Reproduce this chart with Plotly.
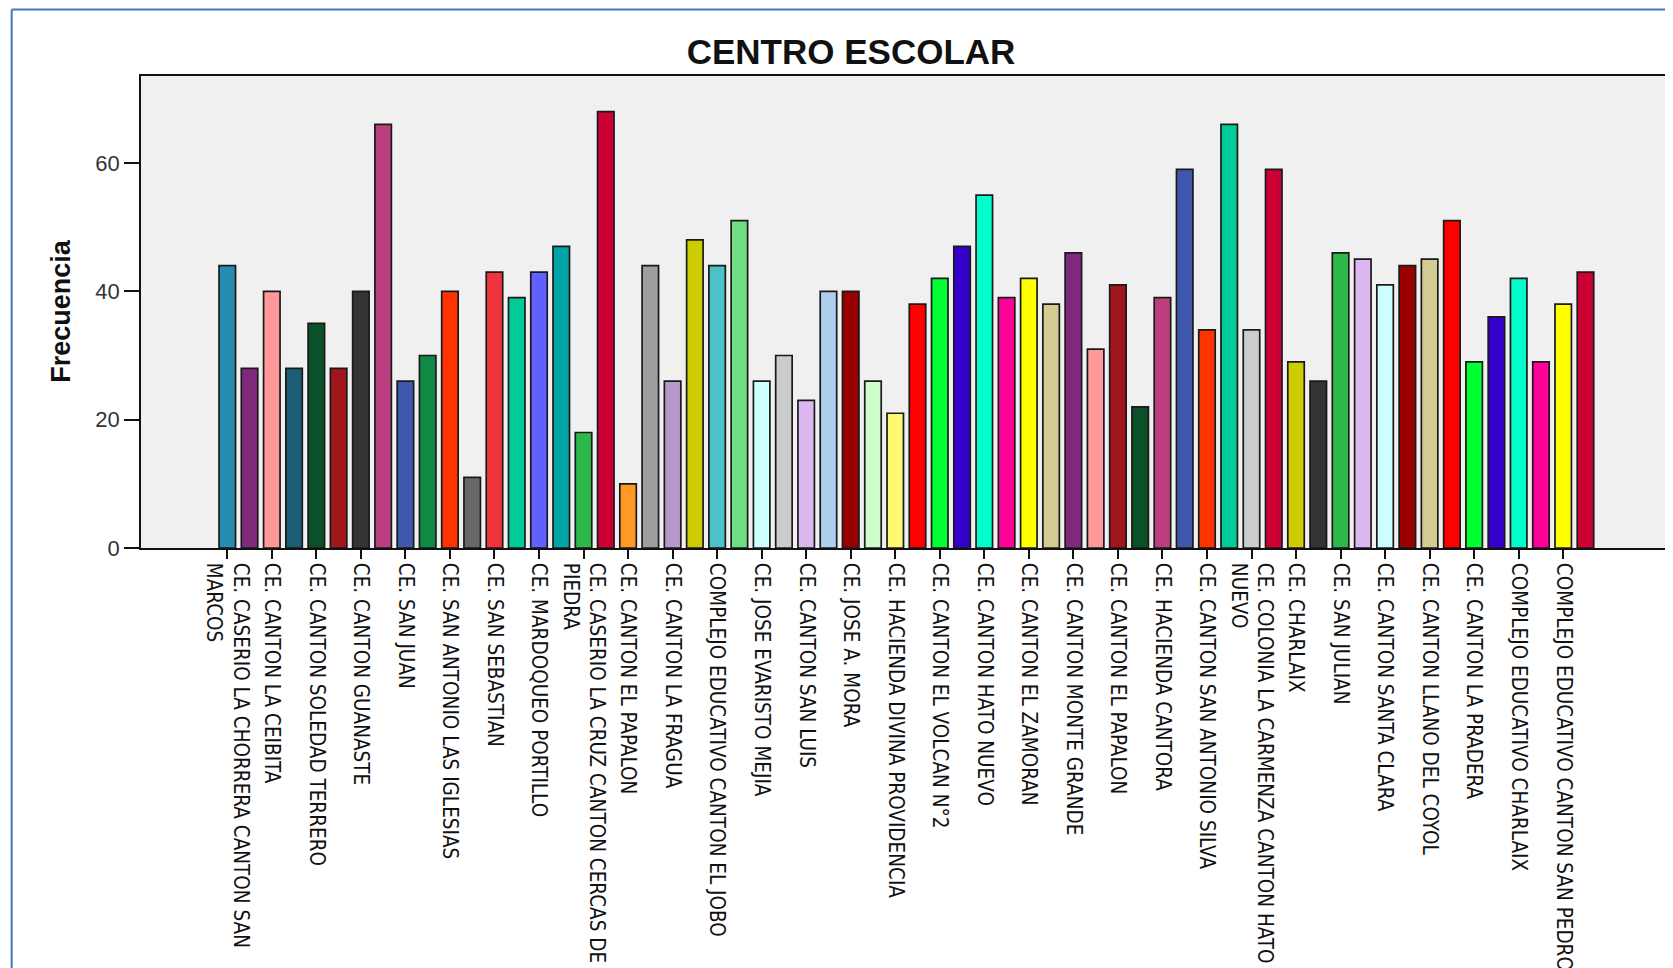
import plotly.graph_objects as go

# ---------------- data ----------------
tick_labels = [
    "CE. CASERIO LA CHORRERA CANTON SAN<br>MARCOS",
    "CE. CANTON LA CEIBITA",
    "CE. CANTON SOLEDAD TERRERO",
    "CE. CANTON GUANASTE",
    "CE. SAN JUAN",
    "CE. SAN ANTONIO LAS IGLESIAS",
    "CE. SAN SEBASTIAN",
    "CE. MARDOQUEO PORTILLO",
    "CE. CASERIO LA CRUZ CANTON CERCAS DE<br>PIEDRA",
    "CE. CANTON EL PAPALON",
    "CE. CANTON LA FRAGUA",
    "COMPLEJO EDUCATIVO CANTON EL JOBO",
    "CE. JOSE EVARISTO MEJIA",
    "CE. CANTON SAN LUIS",
    "CE. JOSE A. MORA",
    "CE. HACIENDA DIVINA PROVIDENCIA",
    "CE. CANTON EL VOLCAN N°2",
    "CE. CANTON HATO NUEVO",
    "CE. CANTON EL ZAMORAN",
    "CE. CANTON MONTE GRANDE",
    "CE. CANTON EL PAPALON",
    "CE. HACIENDA CANTORA",
    "CE. CANTON SAN ANTONIO SILVA",
    "CE. COLONIA LA CARMENZA CANTON HATO<br>NUEVO",
    "CE. CHARLAIX",
    "CE. SAN JULIAN",
    "CE. CANTON SANTA CLARA",
    "CE. CANTON LLANO DEL COYOL",
    "CE. CANTON LA PRADERA",
    "COMPLEJO EDUCATIVO CHARLAIX",
    "COMPLEJO EDUCATIVO CANTON SAN PEDRO",
]

frecuencia = [
    44, 28, 40, 28, 35, 28, 40, 66, 26, 30,
    40, 11, 43, 39, 43, 47, 18, 68, 10, 44,
    26, 48, 44, 51, 26, 30, 23, 40, 40, 26,
    21, 38, 42, 47, 55, 39, 42, 38, 46, 31,
    41, 22, 39, 59, 34, 66, 34, 59, 29, 26,
    46, 45, 41, 44, 45, 51, 29, 36, 42, 29,
    38, 43,
]

bar_colors = [
    "#248DB0", "#7F2A7D", "#FF9999", "#1C5C74", "#0A5028", "#A0161C", "#333333", "#BB3E7E", "#3E57AC", "#0E8A45",
    "#FF3300", "#696969", "#F0333C", "#00CC99", "#6060FF", "#00A6A6", "#2DB84A", "#CC0033", "#FF9922", "#9E9E9E",
    "#B898C8", "#CCCC00", "#4AC2C8", "#70DC84", "#CCFFFF", "#CCCCCC", "#DDB8F0", "#ADD0EE", "#990000", "#CCFFCC",
    "#FFF872", "#FF0000", "#00FF33", "#3300CC", "#00FFCC", "#FF0099", "#FFFF00", "#D4CC92", "#7F2A7D", "#FF9999",
    "#A0161C", "#0A5028", "#BB3E7E", "#3E57AC", "#FF3300", "#00CC99", "#CCCCCC", "#CC0033", "#CCCC00", "#333333",
    "#2DB84A", "#DDB8F0", "#CCFFFF", "#990000", "#D4CC92", "#FF0000", "#00FF33", "#3300CC", "#00FFCC", "#FF0099",
    "#FFFF00", "#CC0033",
]

y_ticks = [0, 20, 40, 60]

# ---------------- figure ----------------
W, H = 1673, 968
ml, mr, mt, mb = 133, 0, 68, 428

positions = list(range(len(frecuencia)))
tick_positions = positions[::2][:len(tick_labels)]

fig = go.Figure(
    go.Bar(
        x=positions,
        y=frecuencia,
        width=0.74,
        marker=dict(color=bar_colors, line=dict(color="#1a1a1a", width=1.7)),
        showlegend=False,
    )
)

narrow = "Liberation Sans Narrow, Arial Narrow, DejaVu Sans Condensed, sans-serif"

fig.update_layout(
    width=W,
    height=H,
    margin=dict(l=ml, r=mr, t=mt, b=mb, autoexpand=False),
    paper_bgcolor="white",
    plot_bgcolor="#F0F0F0",
    title=dict(
        text="<b>CENTRO ESCOLAR</b>",
        x=843 / W,
        xanchor="center",
        y=1 - 44 / H,
        yanchor="middle",
        font=dict(family="Liberation Sans, Arial, sans-serif", size=35, color="#111111"),
    ),
)

fig.update_xaxes(
    range=[-3.875, 65.29],
    tickmode="array",
    tickvals=tick_positions,
    ticktext=tick_labels,
    tickangle=90,
    ticks="outside",
    ticklen=9,
    tickwidth=1.5,
    tickcolor="#111111",
    tickfont=dict(family=narrow, size=20.5, color="#111111"),
    showline=True,
    linecolor="#111111",
    linewidth=1.5,
    mirror=True,
    showgrid=False,
    zeroline=False,
    automargin=False,
)

fig.update_yaxes(
    range=[0, 73.55],
    tickmode="array",
    tickvals=y_ticks,
    ticks="outside",
    ticklen=15,
    tickwidth=1.5,
    tickcolor="#111111",
    tickfont=dict(family="Liberation Sans, Arial, sans-serif", size=22, color="#333333"),
    showline=True,
    linecolor="#111111",
    linewidth=1.5,
    showgrid=False,
    zeroline=False,
    automargin=False,
)

plot_w = W - ml - mr
plot_h = H - mt - mb

# y-axis title
fig.add_annotation(
    text="<b>Frecuencia</b>",
    xref="paper", yref="paper",
    x=(52.7 - ml) / plot_w, y=(H - mb - 303) / plot_h,
    xanchor="center", yanchor="middle",
    textangle=-90,
    showarrow=False,
    font=dict(family="Liberation Sans, Arial, sans-serif", size=27, color="#111111"),
)

# blue outer frame (left and top edges visible)
fx0 = (3.7 - ml) / plot_w
fy1 = 1 + (mt - 1.6) / plot_h
fig.add_shape(type="line", xref="paper", yref="paper",
              x0=fx0, x1=fx0, y0=-mb / plot_h - 0.1, y1=fy1,
              line=dict(color="#4472C4", width=2))
fig.add_shape(type="line", xref="paper", yref="paper",
              x0=fx0, x1=1.1, y0=fy1, y1=fy1,
              line=dict(color="#4472C4", width=2))

fig.write_html("out.html")
